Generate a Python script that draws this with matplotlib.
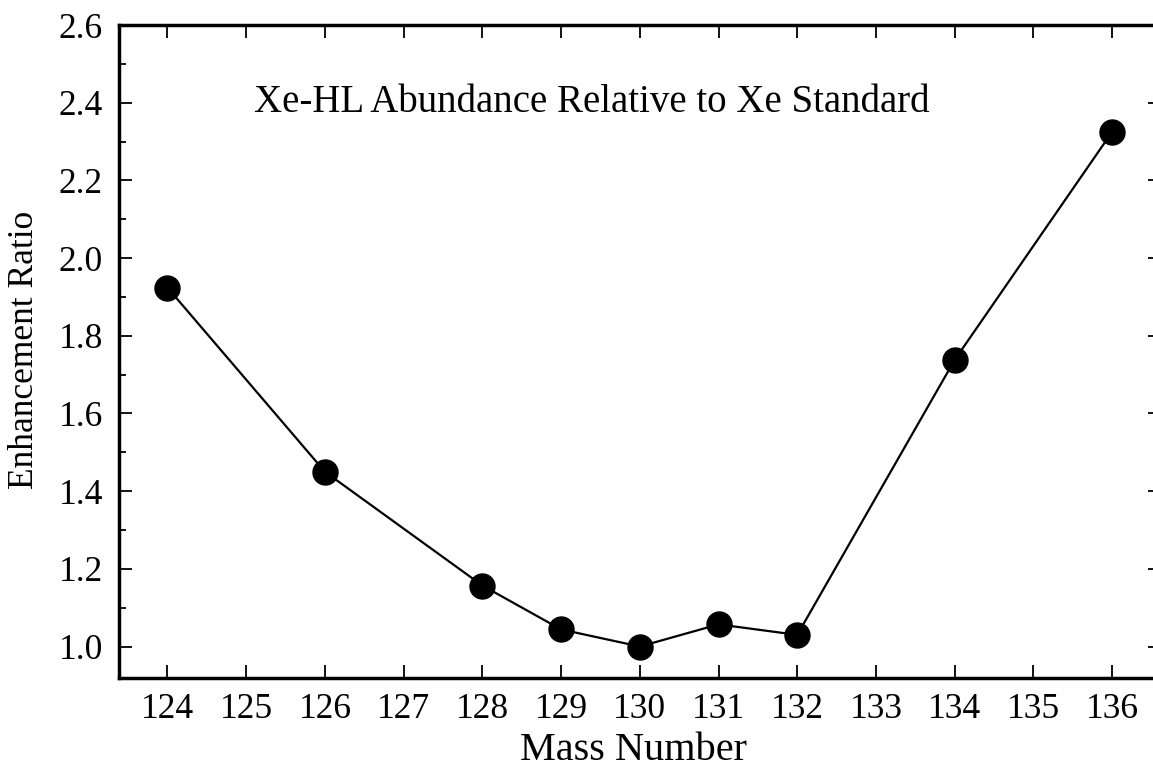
import matplotlib
matplotlib.use("Agg")
import matplotlib.pyplot as plt
from matplotlib.ticker import MultipleLocator

mass = [124, 126, 128, 129, 130, 131, 132, 134, 136]
ratio = [1.924, 1.450, 1.157, 1.044, 1.000, 1.057, 1.030, 1.738, 2.325]
xticks = list(range(124, 137))
yticks = [1.0, 1.2, 1.4, 1.6, 1.8, 2.0, 2.2, 2.4, 2.6]
title_text = "Xe-HL Abundance Relative to Xe Standard"

plt.rcParams['font.family'] = ['Liberation Serif', 'DejaVu Serif']

fig = plt.figure(figsize=(11.53, 7.68), dpi=100)
ax = fig.add_axes([0.1036, 0.1172, 0.9033, 0.8502])

ax.plot(mass, ratio, color='black', lw=1.6, marker='o', ms=18,
        markerfacecolor='black', markeredgecolor='black', zorder=3)

ax.set_xlim(123.39, 136.62)
ax.set_ylim(0.919, 2.6)
ax.set_xticks(xticks)
ax.set_yticks(yticks)
ax.set_yticklabels([f"{v:.1f}" for v in yticks])
ax.yaxis.set_minor_locator(MultipleLocator(0.1))

for s in ax.spines.values():
    s.set_linewidth(2.5)

ax.tick_params(axis='both', which='major', direction='in', length=9.5, width=1.3,
               top=True, right=True, labelsize=25.5)
ax.tick_params(axis='y', which='major', pad=12)
ax.tick_params(axis='x', which='major', pad=11)
ax.tick_params(axis='y', which='minor', direction='in', length=5, width=1.3,
               left=True, right=True)

ax.set_xlabel("Mass Number", fontsize=29)
ax.xaxis.set_label_coords(633 / 1153, 1 - 751 / 768, transform=fig.transFigure)
ax.set_ylabel("Enhancement Ratio", fontsize=25.5)
ax.yaxis.set_label_coords(25 / 1153, 1 - 350 / 768, transform=fig.transFigure)
ax.xaxis.label.set_va('center')
ax.yaxis.label.set_va('center')

ax.text(591.5 / 1153, 1 - 103 / 768, title_text, transform=fig.transFigure,
        fontsize=28, ha='center', va='center')

fig.savefig("out.png", dpi=100)
